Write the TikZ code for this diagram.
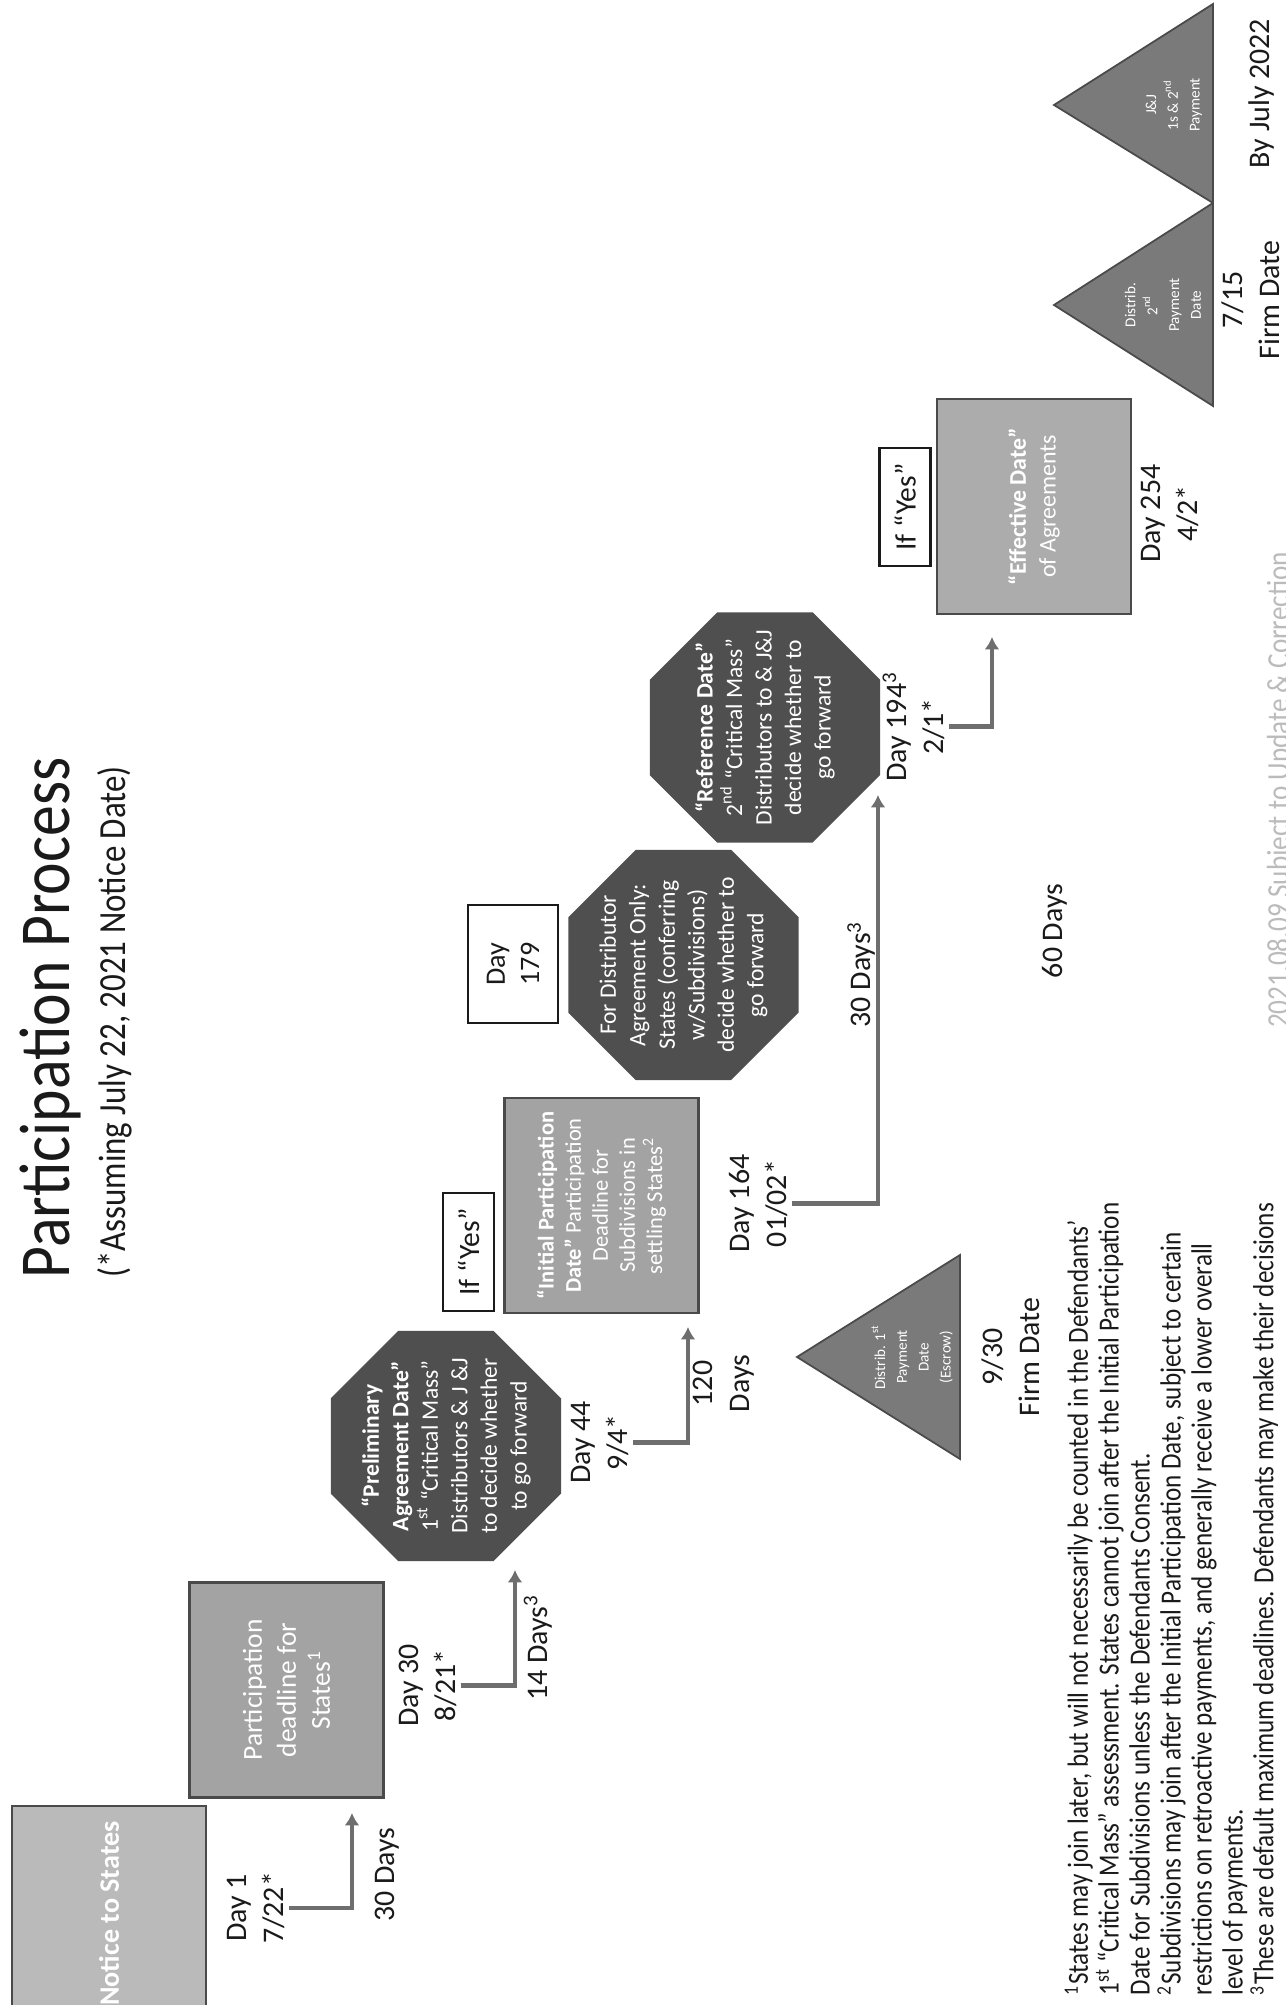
\documentclass[tikz,border=0pt]{standalone}
\usepackage{fontspec}
\setmainfont{Carlito}
\newfontfamily\narrowfont{Carlito}[FakeStretch=0.86]
\usetikzlibrary{arrows.meta,shapes.geometric}
\definecolor{ink}{HTML}{1A1A1A}
\definecolor{boxfill}{HTML}{A3A3A3}
\definecolor{boxedge}{HTML}{4A4A4A}
\definecolor{octfill}{HTML}{4F4F4F}
\definecolor{trifill}{HTML}{7A7A7A}
\definecolor{arrowgray}{HTML}{6E6E6E}
\definecolor{stamp}{HTML}{BBBBBB}

\begin{document}
\begin{tikzpicture}[x=0.01cm,y=0.01cm,text=ink,>=Latex,
  lab/.style={font=\fontsize{8.5}{10.5}\selectfont,align=center,inner sep=1pt},
  gbox/.style={draw=boxedge,fill=boxfill,line width=0.7pt,text=white,align=center,
    minimum width=2.15cm,minimum height=1.94cm,inner sep=0pt},
  octa/.style={regular polygon,regular polygon sides=8,minimum size=2.49cm,
    fill=octfill,inner sep=0pt},
  octtext/.style={text=white,align=center,font=\fontsize{6.7}{8.4}\selectfont},
  yesbox/.style={draw=ink,fill=white,line width=0.6pt,minimum width=1.18cm,
    minimum height=0.51cm,inner sep=0pt,font=\fontsize{8.4}{10}\selectfont},
  tri/.style={fill=trifill,draw=boxedge,line width=0.5pt},
  tritext/.style={text=white,align=center,font=\fontsize{4.3}{6.2}\selectfont},
  flow/.style={draw=arrowgray,line width=1.2pt,-{Latex[length=3.5pt,width=4.2pt]}}]
\begin{scope}[rotate=90,transform shape]
  \useasboundingbox (0,0) -- (2005,0) -- (2005,1286) -- (0,1286) -- cycle;
  \fill[white] (0,0) -- (2005,0) -- (2005,1286) -- (0,1286) -- cycle;
  \clip (0,0) -- (2005,0) -- (2005,1286) -- (0,1286) -- cycle;

  \node[anchor=base,font=\narrowfont\fontsize{20.4}{24}\selectfont] (title)
    at (987,1216) {Participation Process};
  \node[anchor=base,font=\narrowfont\fontsize{10.9}{13}\selectfont] (subtitle)
    at (983,1160) {(*Assuming July 22, 2021 Notice Date)};

  \node[gbox,fill=boxfill!75!white,font=\bfseries\fontsize{8}{9.7}\selectfont]
    (notice) at (91.5,1177) {Notice to States};
  \node[gbox,font=\fontsize{7.8}{9.7}\selectfont] (deadline) at (315,999.5)
    {Participation\\deadline for\\States\textsuperscript{1}};
  \node[gbox,font=\fontsize{6.4}{7.7}\selectfont] (initial) at (799.5,684.5)
    {\textbf{“Initial Participation}\\\textbf{Date”} Participation\\
     Deadline for\\Subdivisions in\\settling States\textsuperscript{2}};
  \node[gbox,fill=boxfill!90!white,font=\fontsize{6.8}{8.5}\selectfont]
    (effective) at (1498.5,252) {\textbf{“Effective Date”}\\of Agreements};

  \node[octa] (prelim) at (559,840) {};
  \node[octtext] (prelimtext) at (prelim)
    {\textbf{“Preliminary}\\\textbf{Agreement Date”}\\
     1\textsuperscript{st} “Critical Mass”\\Distributors \& J \&J\\
     to decide whether\\to go forward};
  \node[octa] (distrib) at (1040,602.5) {};
  \node[octtext] (distribtext) at (distrib)
    {For Distributor\\Agreement Only:\\States (conferring\\
     w/Subdivisions)\\decide whether to\\go forward};
  \node[octa] (reference) at (1277.5,521) {};
  \node[octtext] (referencetext) at (reference)
    {\textbf{“Reference Date”}\\2\textsuperscript{nd} “Critical Mass”\\
     Distributors to \& J\&J\\decide whether to\\go forward};

  \node[yesbox] (yes1) at (753,817.5) {If “Yes”};
  \node[yesbox] (yes2) at (1498,381) {If “Yes”};
  \node[yesbox,minimum height=0.9cm,align=center,font=\fontsize{8}{9.7}\selectfont]
    (day179) at (1041,773) {Day\\179};

  \path[tri] (546,326) -- (750,326) -- (648,489) -- cycle;
  \node[tritext] (pay1) at (648,374)
    {Distrib. 1\textsuperscript{st}\\Payment\\Date\\(Escrow)};
  \path[tri] (1599,73) -- (1802,73) -- (1700,232) -- cycle;
  \node[tritext] (pay2) at (1700,123) {Distrib.\\2\textsuperscript{nd}\\Payment\\Date};
  \path[tri] (1802,73) -- (2001,73) -- (1900,232) -- cycle;
  \node[tritext] (pay3) at (1900,112) {J\&J\\1s \& 2\textsuperscript{nd}\\Payment};

  \node[lab] (d1) at (97,1030) {Day 1\\7/22*};
  \node[lab] (d30) at (319.5,858.5) {Day 30\\8/21*};
  \node[lab] (d44) at (562.5,685.5) {Day 44\\9/4*};
  \node[lab] (d164) at (801.5,527) {Day 164\\01/02*};
  \node[lab] (d194) at (1278.5,372.5) {Day 194\textsuperscript{3}\\2/1*};
  \node[lab] (d254) at (1491.5,116) {Day 254\\4/2*};

  \node[lab] (gap30) at (130.5,898.5) {30 Days};
  \node[lab] (gap14) at (357.5,748) {14 Days\textsuperscript{3}};
  \node[lab] (gap120) at (621.5,562) {120\\Days};
  \node[lab] (gap30b) at (1031,424.5) {30 Days\textsuperscript{3}};
  \node[lab] (gap60) at (1074,231.5) {60 Days};

  \node[lab] (firm930) at (648,275) {9/30\\Firm Date};
  \node[lab] (firm715) at (1705,35) {7/15\\Firm Date};
  \node[lab] (july) at (1911.5,24.5) {By July 2022};

  \coordinate (tipA) at (192,934);
  \coordinate (tipB) at (435,771);
  \coordinate (tipC) at (678,598);
  \coordinate (tipD) at (1210,408);
  \coordinate (tipE) at (1368,294);
  \draw[flow] (d1.south) |- (tipA);
  \draw[flow] (d30.south) |- (tipB);
  \draw[flow] (d44.south) |- (tipC);
  \draw[flow] (d164.south) |- (tipD);
  \draw[flow] (d194.south) |- (tipE);

  \node[anchor=north west,align=left,inner sep=0pt,
        font=\narrowfont\fontsize{8.3}{8.8}\selectfont] (notes) at (9,222)
    {\textsuperscript{1}States may join later, but will not necessarily be counted in the Defendants’\\
     1\textsuperscript{st} “Critical Mass” assessment. States cannot join after the Initial Participation\\
     Date for Subdivisions unless the Defendants Consent.\\
     \textsuperscript{2}Subdivisions may join after the Initial Participation Date, subject to certain\\
     restrictions on retroactive payments, and generally receive a lower overall\\
     level of payments.\\
     \textsuperscript{3}These are default maximum deadlines. Defendants may make their decisions};
  \node[anchor=base,text=stamp,font=\narrowfont\fontsize{9}{11}\selectfont]
    (watermark) at (1215,-3) {2021.08.09 Subject to Update \& Correction};
\end{scope}
\end{tikzpicture}
\end{document}
